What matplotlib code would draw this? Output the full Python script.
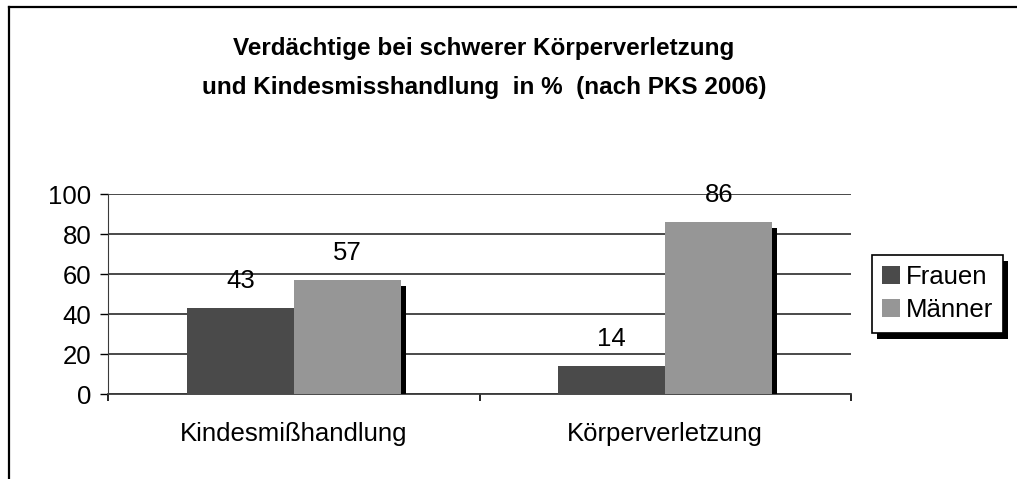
import matplotlib
matplotlib.use("Agg")
import matplotlib.pyplot as plt
import matplotlib.patheffects as pe
from matplotlib.lines import Line2D
import numpy as np

plt.rcParams['font.family'] = ['Liberation Sans', 'DejaVu Sans']

categories = ['Kindesmißhandlung', 'Körperverletzung']
series_names = ['Frauen', 'Männer']
frauen = [43, 14]
maenner = [57, 86]
title = 'Verdächtige bei schwerer Körperverletzung\nund Kindesmisshandlung  in %  (nach PKS 2006)'
yticks = [0, 20, 40, 60, 80, 100]

W, H = 1017, 479
fig = plt.figure(figsize=(W / 100, H / 100), dpi=100)
ax = fig.add_axes([108 / W, (H - 394) / H, (851 - 108) / W, 200 / H])

x = np.arange(len(categories))
bw = 0.288
shadow = [pe.SimplePatchShadow(offset=(3.6, -4.3), shadow_rgbFace='black', alpha=1.0), pe.Normal()]

b1 = ax.bar(x - bw / 2, frauen, bw, color='#4a4a4a', label=series_names[0], zorder=3)
b2 = ax.bar(x + bw / 2, maenner, bw, color='#969696', label=series_names[1], zorder=3)
for bars in (b1, b2):
    for r in bars:
        r.set_path_effects(shadow)

fs = 18.5
for xs, vals in ((x - bw / 2, frauen), (x + bw / 2, maenner)):
    for xi, v in zip(xs, vals):
        ax.annotate(str(v), (xi, v), xytext=(0, 19.5), textcoords='offset points',
                    ha='center', va='center', fontsize=fs, zorder=5)

ax.set_xlim(-0.5, len(categories) - 0.5)
ax.set_ylim(0, 100)
ax.set_yticks(yticks)
ax.tick_params(axis='y', direction='out', length=6, width=1, labelsize=fs, pad=6)
ax.set_xticks(np.arange(-0.5, len(categories), 1.0))
ax.set_xticklabels([])
ax.tick_params(axis='x', which='major', direction='out', length=5, width=1.2)
ax.set_xticks(x, minor=True)
ax.set_xticklabels(categories, minor=True, fontsize=fs)
ax.tick_params(axis='x', which='minor', length=0, pad=20)

ax.grid(axis='y', color='#3a3a3a', linewidth=1.3, zorder=0)
ax.set_axisbelow(True)
for s in ('top', 'right'):
    ax.spines[s].set_visible(False)
ax.spines['left'].set_color('#3a3a3a')
ax.spines['bottom'].set_color('#3a3a3a')
ax.spines['bottom'].set_linewidth(1.3)

leg = ax.legend(loc='upper left', bbox_to_anchor=(872 / W, 1 - 255 / H),
                bbox_transform=fig.transFigure, fontsize=fs, fancybox=False,
                frameon=True, framealpha=1, borderpad=0.4, handlelength=0.7,
                handleheight=0.7, handletextpad=0.2, labelspacing=0.35, borderaxespad=0)
for h in leg.legend_handles:
    h.set_path_effects([])
frame = leg.get_frame()
frame.set_edgecolor('black')
frame.set_linewidth(1.2)
frame.set_path_effects(shadow)

fig.text(484 / W, 1 - 68 / H, title, ha='center', va='center', fontsize=17.5,
         fontweight='bold', linespacing=1.9)

# outer frame (only top and left edges are visible)
fig.add_artist(Line2D([8.5 / W, 1.0], [1 - 6.5 / H, 1 - 6.5 / H], color='black', lw=1.6,
                      transform=fig.transFigure))
fig.add_artist(Line2D([8.5 / W, 8.5 / W], [0.0, 1 - 6.5 / H], color='black', lw=1.6,
                      transform=fig.transFigure))

fig.savefig('out.png', dpi=100)
